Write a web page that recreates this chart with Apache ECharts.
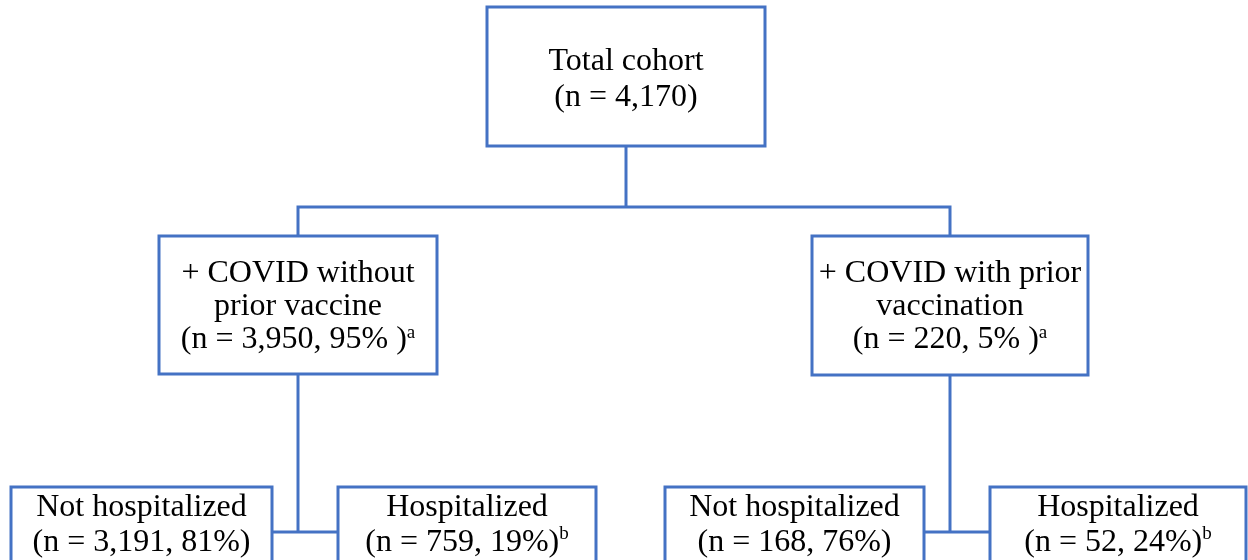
<!DOCTYPE html>
<html>
<head>
<meta charset="utf-8">
<script src="https://cdn.jsdelivr.net/npm/echarts@6/dist/echarts.min.js"></script>
<style>
  html, body { margin: 0; padding: 0; background: #fff; }
  #main { width: 1248px; height: 560px; }
</style>
</head>
<body>
<div id="main"></div>
<script>
// flowchart data
var nodeNames = ['Total cohort', '+ COVID without\nprior vaccine', '+ COVID with prior\nvaccination',
  'Not hospitalized', 'Hospitalized', 'Not hospitalized', 'Hospitalized'];
var nodeCounts = [4170, 3950, 220, 3191, 759, 168, 52];
var nodePercents = [null, 95, 5, 81, 19, 76, 24];
var nodeNotes = ['', 'a', 'a', '', 'b', '', 'b'];
var nodeParents = [-1, 0, 0, 1, 1, 2, 2];

// layout (chart units = pixels of the 1248x560 frame)
var boxes = [
  [487, 7, 765, 146],
  [159, 236, 437, 374],
  [812, 236, 1088, 375],
  [11, 487, 272, 620],
  [338, 487, 596, 620],
  [665, 487, 924, 620],
  [990, 487, 1246, 620]
];
var textY = [80, 307, 307, 525, 525, 525, 525];
var lineH = [36, 33, 33, 35, 35, 35, 35];
var busY = [207, 532, 532];

var blue = '#4472C4';

function labelFor(i) {
  var s = nodeNames[i] + '\n(n = ' + nodeCounts[i].toLocaleString('en-US');
  if (nodePercents[i] != null) {
    s += ', ' + nodePercents[i] + '%' + (i == 1 || i == 2 ? ' ' : '');
  }
  s += ')';
  if (nodeNotes[i]) s += '{sup|' + nodeNotes[i] + '}';
  return s;
}

// connectors
var links = [];
function cx(b) { return (b[0] + b[2]) / 2; }
// top -> middle (elbow via bus)
links.push([[cx(boxes[0]), boxes[0][3]], [cx(boxes[0]), busY[0]]]);
links.push([[cx(boxes[1]), boxes[1][1]], [cx(boxes[1]), busY[0]], [cx(boxes[2]), busY[0]], [cx(boxes[2]), boxes[2][1]]]);
// middle -> bottom pairs
[1, 2].forEach(function (p) {
  var kids = [];
  nodeParents.forEach(function (q, k) { if (q === p) kids.push(k); });
  var y = busY[p];
  links.push([[cx(boxes[p]), boxes[p][3]], [cx(boxes[p]), y]]);
  links.push([[boxes[kids[0]][2], y], [boxes[kids[1]][0], y]]);
});

var chart = echarts.init(document.getElementById('main'), null, { renderer: 'canvas' });

var option = {
  animation: false,
  backgroundColor: '#fff',
  grid: { left: 0, right: 0, top: 0, bottom: 0 },
  xAxis: { type: 'value', min: 0, max: 1248, show: false },
  yAxis: { type: 'value', min: 0, max: 560, inverse: true, show: false },
  series: [
    {
      type: 'lines',
      coordinateSystem: 'cartesian2d',
      polyline: true,
      silent: true,
      lineStyle: { color: blue, width: 3, opacity: 1 },
      data: links.map(function (c) { return { coords: c }; })
    },
    {
      type: 'custom',
      coordinateSystem: 'cartesian2d',
      silent: true,
      data: nodeNames.map(function (n, i) { return [i]; }),
      renderItem: function (params, api) {
        var i = api.value(0);
        var b = boxes[i];
        var p0 = api.coord([b[0], b[1]]);
        var p1 = api.coord([b[2], b[3]]);
        var c = api.coord([cx(b), textY[i]]);
        return {
          type: 'group',
          children: [
            {
              type: 'rect',
              shape: { x: p0[0], y: p0[1], width: p1[0] - p0[0], height: p1[1] - p0[1] },
              style: { fill: '#fff', stroke: blue, lineWidth: 3 }
            },
            {
              type: 'text',
              x: c[0], y: c[1],
              style: {
                text: labelFor(i),
                align: 'center',
                verticalAlign: 'middle',
                fontFamily: 'Liberation Serif',
                fontSize: 32,
                lineHeight: lineH[i],
                fill: '#000',
                rich: {
                  sup: { fontFamily: 'Liberation Serif', fontSize: 19, lineHeight: 26, verticalAlign: 'top', fill: '#000' }
                }
              }
            }
          ]
        };
      }
    }
  ]
};

chart.setOption(option);
</script>
</body>
</html>
